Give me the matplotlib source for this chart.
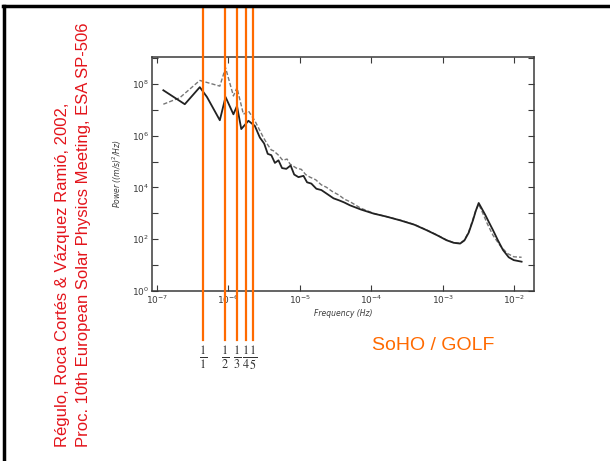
import numpy as np
import matplotlib
matplotlib.use('Agg')
import matplotlib.pyplot as plt
from matplotlib.lines import Line2D
from matplotlib.ticker import FixedLocator, FuncFormatter, NullLocator

# log10 of frequency (Hz) and power ((m/s)^2/Hz)
solid_logf = [-6.91, -6.61, -6.40, -6.30, -6.12, -6.04, -5.93, -5.88, -5.82, -5.72,
              -5.63, -5.56, -5.50, -5.45, -5.40, -5.35, -5.30, -5.25, -5.19, -5.13,
              -5.08, -5.02, -4.95, -4.90, -4.84, -4.77, -4.70, -4.62, -4.53, -4.45,
              -4.38, -4.30, -4.15, -3.97, -3.80, -3.60, -3.40, -3.23, -3.08, -2.95,
              -2.85, -2.76, -2.70, -2.64, -2.58, -2.54, -2.50, -2.46, -2.41, -2.35,
              -2.30, -2.23, -2.16, -2.08, -2.01, -1.90]
solid_logp = [7.76, 7.22, 7.88, 7.50, 6.60, 7.50, 6.83, 7.15, 6.26, 6.58,
              6.38, 5.93, 5.70, 5.30, 5.25, 4.95, 5.05, 4.75, 4.72, 4.85,
              4.50, 4.40, 4.45, 4.20, 4.15, 3.95, 3.90, 3.75, 3.58, 3.50,
              3.42, 3.31, 3.15, 2.99, 2.88, 2.73, 2.56, 2.35, 2.15, 1.96,
              1.86, 1.83, 1.95, 2.25, 2.73, 3.10, 3.40, 3.20, 2.95, 2.62,
              2.35, 1.95, 1.58, 1.30, 1.19, 1.13]

dash_logf = [-6.91, -6.68, -6.40, -6.12, -6.04, -5.93, -5.88, -5.79, -5.72, -5.63,
             -5.56, -5.51, -5.45, -5.40, -5.37, -5.30, -5.24, -5.18, -5.14, -5.05,
             -4.98, -4.92, -4.86, -4.78, -4.70, -4.63, -4.55, -4.45, -4.38, -4.30,
             -4.15, -3.97, -3.80, -3.60, -3.40, -3.23, -3.08, -2.95, -2.85, -2.76,
             -2.70, -2.64, -2.58, -2.54, -2.50, -2.45, -2.38, -2.30, -2.20, -2.10,
             -2.01, -1.90]
dash_logp = [7.22, 7.47, 8.14, 7.92, 8.63, 7.54, 7.86, 6.83, 6.96, 6.58,
             6.20, 5.93, 5.65, 5.45, 5.42, 5.25, 5.05, 5.10, 4.91, 4.75,
             4.70, 4.50, 4.40, 4.30, 4.10, 4.01, 3.85, 3.70, 3.55, 3.45,
             3.20, 3.00, 2.88, 2.74, 2.57, 2.36, 2.16, 1.97, 1.87, 1.84,
             1.97, 2.28, 2.78, 3.12, 3.35, 3.05, 2.60, 2.15, 1.75, 1.45,
             1.32, 1.30]

# solar rotation frequency (~26 days) and its harmonics
f_rot = 4.45e-7
harmonics = [1, 2, 3, 4, 5]

orange = '#FF6A00'
red = '#E3141B'
gray = '#3a3a3a'

fig = plt.figure(figsize=(6.10, 4.61), dpi=100)
ax = fig.add_axes([0.249, 0.369, 0.626, 0.507])

ax.plot(10 ** np.array(dash_logf), 10 ** np.array(dash_logp), color='#777777',
        linewidth=1.0, linestyle=(0, (3, 1.5)))
ax.plot(10 ** np.array(solid_logf), 10 ** np.array(solid_logp), color='#222222',
        linewidth=1.3)

ax.set_xscale('log')
ax.set_yscale('log')
ax.set_xlim(10 ** -7.07, 10 ** -1.73)
ax.set_ylim(1, 10 ** 9.04)

ax.xaxis.set_major_locator(FixedLocator([10.0 ** k for k in range(-7, -1)]))
ax.xaxis.set_minor_locator(NullLocator())
ax.yaxis.set_major_locator(FixedLocator([10.0 ** k for k in range(0, 10)]))
ax.yaxis.set_minor_locator(NullLocator())
ax.xaxis.set_major_formatter(FuncFormatter(lambda v, p: r'$10^{%d}$' % round(np.log10(v))))
ax.yaxis.set_major_formatter(FuncFormatter(
    lambda v, p: r'$10^{%d}$' % round(np.log10(v)) if round(np.log10(v)) % 2 == 0 else ''))
ax.tick_params(which='both', direction='in', top=True, right=True, length=4,
               width=0.8, color=gray, labelsize=6.5, labelcolor=gray, pad=2)
for s in ax.spines.values():
    s.set_color(gray)
    s.set_linewidth(1.1)

ax.set_xlabel('Frequency (Hz)', fontsize=5.5, style='italic', color=gray, labelpad=2)
ax.set_ylabel(r'Power ((m/s)$^2$/Hz)', fontsize=5.5, style='italic', color=gray, labelpad=6)

# orange lines at rotation harmonics, running past the axes
top_y = 1 - 7 / 461
bot_y = 1 - 340 / 461
for n in harmonics:
    f = f_rot * n
    xf = fig.transFigure.inverted().transform(ax.transData.transform((f, 1)))[0]
    fig.add_artist(Line2D([xf, xf], [bot_y, top_y], color=orange, linewidth=1.6))
    fig.text(xf, 1 - 358 / 461, r'$\frac{1}{%d}$' % n, ha='center', va='center',
             fontsize=12.5, color='#333333', math_fontfamily='stix')

# slide frame
fig.add_artist(Line2D([4 / 610, 4 / 610], [0, 1 - 6 / 461], color='black', linewidth=2.5))
fig.add_artist(Line2D([3 / 610, 1], [1 - 6 / 461, 1 - 6 / 461], color='black', linewidth=2.5))

fig.text(63 / 610, 1 - 447 / 461, 'Régulo, Roca Cortés & Vázquez Ramió, 2002,',
         rotation=90, ha='center', va='bottom', color=red, fontsize=12,
         family='Liberation Sans')
fig.text(84 / 610, 1 - 447 / 461, 'Proc. 10th European Solar Physics Meeting, ESA SP-506',
         rotation=90, ha='center', va='bottom', color=red, fontsize=12,
         family='Liberation Sans')
fig.text(372 / 610, 1 - 345 / 461, 'SoHO / GOLF', ha='left', va='center',
         color=orange, fontsize=14, family='Liberation Sans')

fig.savefig('out.png', dpi=100)
